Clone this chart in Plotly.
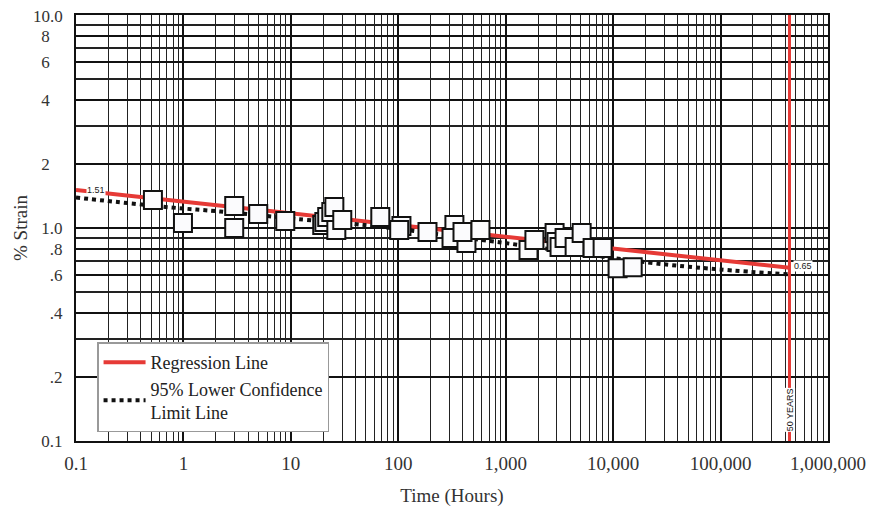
import numpy as np
import plotly.graph_objects as go

# ---- data ----
data_time = [0.52, 0.99, 2.97, 2.97, 4.97, 8.87,
             19.6, 20.5, 21.8, 23.8, 25.4, 26.5, 30.1,
             68, 107, 102, 187, 333, 313, 431, 396, 582,
             1630, 1850, 2850, 2970, 3170, 3530, 4380, 5090, 6440, 7980,
             11000, 15200]
data_strain = [1.355, 1.056, 1.269, 1.00, 1.164, 1.079,
               1.033, 1.067, 1.126, 1.189, 1.255, 0.979, 1.09,
               1.126, 1.022, 0.979, 0.957, 1.033, 0.897, 0.850, 0.957, 0.979,
               0.788, 0.878, 0.947, 0.859, 0.814, 0.897, 0.814, 0.947, 0.805, 0.805,
               0.648, 0.655]

reg_time = [0.1, 438000]
reg_strain = [1.51, 0.65]

lcl_time = [0.1, 0.75, 2.2, 13, 44, 900, 21000, 94000, 438000]
lcl_strain = [1.39, 1.25, 1.195, 1.096, 1.038, 0.855, 0.689, 0.64, 0.605]

fifty_years_hours = 438000
y_limits = [0.1, 10]

x_tickvals = [0.1, 1, 10, 100, 1000, 10000, 100000, 1000000]
x_ticktext = ["0.1", "1", "10", "100", "1,000", "10,000", "100,000", "1,000,000"]
FS = "\u2008\u2007"  # spacing so single digits sit like the reference
y_tickvals = [0.1, 0.2, 0.4, 0.6, 0.8, 1, 2, 4, 6, 8]
y_ticktext = ["0.1", ".2", ".4", ".6", ".8", "1.0", "2" + FS, "4" + FS, "6" + FS, "8" + FS]
y_top_value = 10
y_top_label = "10.0"

RED = "#e63a36"
SERIF = "Liberation Serif, Times New Roman, serif"
SANS = "Liberation Sans, Arial, sans-serif"

fig = go.Figure()

# 50-year vertical line
fig.add_trace(go.Scatter(x=[fifty_years_hours, fifty_years_hours], y=y_limits,
                         mode="lines", line=dict(color=RED, width=3),
                         showlegend=False, hoverinfo="skip"))

fig.add_trace(go.Scatter(x=reg_time, y=reg_strain, mode="lines",
                         line=dict(color=RED, width=4), name="Regression Line"))

fig.add_trace(go.Scatter(x=lcl_time, y=lcl_strain, mode="lines",
                         line=dict(color="#111111", width=4, dash="4px,4px", shape="spline"),
                         name="95% Lower Confidence<br>Limit Line"))

fig.add_trace(go.Scatter(x=data_time, y=data_strain, mode="markers",
                         marker=dict(symbol="square", size=18, color="#fbfbfd",
                                     line=dict(color="#111111", width=2)),
                         showlegend=False))

fig.add_annotation(x=np.log10(0.155), y=np.log10(reg_strain[0]), text="1.51",
                   showarrow=False, font=dict(family=SANS, size=9, color="#222"),
                   bgcolor="white", borderpad=0)
fig.add_annotation(x=np.log10(fifty_years_hours * 1.07), y=np.log10(0.665), text="0.65",
                   showarrow=False, xanchor="left",
                   font=dict(family=SANS, size=9, color="#222"),
                   bgcolor="white", borderpad=0)
fig.add_annotation(x=np.log10(fifty_years_hours), y=np.log10(0.14), text="50 YEARS",
                   showarrow=False, textangle=-90,
                   font=dict(family=SANS, size=9, color="#111"),
                   bgcolor="white", borderpad=0)
# top y label (sits slightly below the top edge as in the reference)
fig.add_annotation(xref="paper", x=0, xanchor="right", xshift=-12,
                   y=np.log10(y_top_value), yanchor="middle", yshift=-1,
                   text=y_top_label, showarrow=False, borderpad=0,
                   font=dict(family=SERIF, size=17, color="#333"))

fig.update_xaxes(type="log", range=[-1, 6], tickvals=x_tickvals, ticktext=x_ticktext,
                 showgrid=True, gridcolor="#111111", gridwidth=2,
                 minor=dict(dtick="D1", showgrid=True, gridcolor="#222222", gridwidth=1, ticks=""),
                 showline=True, linecolor="#111111", linewidth=2, mirror=True,
                 ticks="", zeroline=False, automargin=False, ticklabeloverflow="allow",
                 ticklabelstandoff=4,
                 tickfont=dict(family=SERIF, size=19, color="#333"),
                 title=dict(text="Time (Hours)", font=dict(family=SERIF, size=19, color="#333"),
                            standoff=16))
fig.update_yaxes(type="log", range=[-1, 1], tickvals=y_tickvals, ticktext=y_ticktext,
                 showgrid=True, gridcolor="#111111", gridwidth=1.5,
                 minor=dict(dtick="D1", showgrid=True, gridcolor="#222222", gridwidth=1.5, ticks=""),
                 showline=True, linecolor="#111111", linewidth=2, mirror=True,
                 ticks="", zeroline=False, automargin=False, ticklabeloverflow="allow",
                 ticklabelstandoff=8,
                 tickfont=dict(family=SERIF, size=17, color="#333"),
                 title=dict(text="% Strain", font=dict(family=SERIF, size=19, color="#333"),
                            standoff=9))

fig.update_layout(
    width=873, height=512,
    margin=dict(l=76, r=45, t=15, b=71),
    paper_bgcolor="white", plot_bgcolor="white",
    legend=dict(x=0.028, y=0.02, xanchor="left", yanchor="bottom",
                bgcolor="white", bordercolor="#999999", borderwidth=1.5,
                font=dict(family=SERIF, size=18, color="#222"),
                itemwidth=42, tracegroupgap=0),
)

fig.write_html("out.html", config={"displayModeBar": False},
               post_script="document.body.style.margin='0px';")
